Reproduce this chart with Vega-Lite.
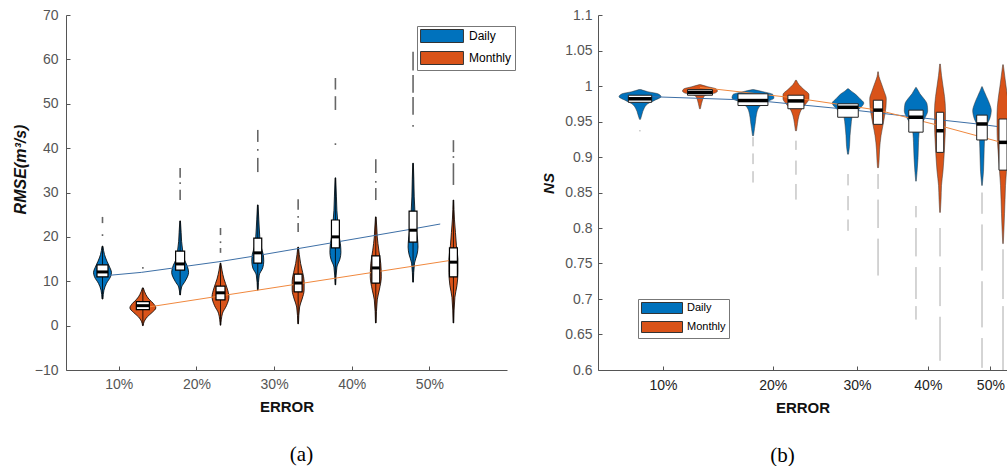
{
"$schema": "https://vega.github.io/schema/vega-lite/v6.json",
"padding": {"left": 12, "top": 8, "right": 0, "bottom": 0},
"background": "white",
"datasets": {
"va": [
{"id":"D10","type":"Daily","v":6.0,"lo":7.84,"hi":7.96},
{"id":"D10","type":"Daily","v":8.0,"lo":7.71,"hi":8.09},
{"id":"D10","type":"Daily","v":9.5,"lo":7.39,"hi":8.41},
{"id":"D10","type":"Daily","v":11,"lo":6.87,"hi":8.93},
{"id":"D10","type":"Daily","v":12,"lo":6.74,"hi":9.06},
{"id":"D10","type":"Daily","v":13,"lo":6.93,"hi":8.87},
{"id":"D10","type":"Daily","v":14.5,"lo":7.32,"hi":8.48},
{"id":"D10","type":"Daily","v":16,"lo":7.64,"hi":8.16},
{"id":"D10","type":"Daily","v":17.9,"lo":7.84,"hi":7.96},
{"id":"M10","type":"Monthly","v":0,"lo":13.06,"hi":13.14},
{"id":"M10","type":"Monthly","v":1,"lo":12.91,"hi":13.29},
{"id":"M10","type":"Monthly","v":2,"lo":12.52,"hi":13.68},
{"id":"M10","type":"Monthly","v":3,"lo":11.88,"hi":14.32},
{"id":"M10","type":"Monthly","v":4,"lo":11.43,"hi":14.77},
{"id":"M10","type":"Monthly","v":5,"lo":11.75,"hi":14.45},
{"id":"M10","type":"Monthly","v":6,"lo":12.33,"hi":13.87},
{"id":"M10","type":"Monthly","v":7,"lo":12.71,"hi":13.49},
{"id":"M10","type":"Monthly","v":8.5,"lo":13.04,"hi":13.16},
{"id":"D20","type":"Daily","v":6.9,"lo":17.86,"hi":17.94},
{"id":"D20","type":"Daily","v":8.7,"lo":17.71,"hi":18.09},
{"id":"D20","type":"Daily","v":10,"lo":17.26,"hi":18.54},
{"id":"D20","type":"Daily","v":12,"lo":16.81,"hi":18.99},
{"id":"D20","type":"Daily","v":13.5,"lo":17.00,"hi":18.80},
{"id":"D20","type":"Daily","v":15,"lo":17.39,"hi":18.41},
{"id":"D20","type":"Daily","v":17,"lo":17.58,"hi":18.22},
{"id":"D20","type":"Daily","v":19,"lo":17.71,"hi":18.09},
{"id":"D20","type":"Daily","v":21,"lo":17.77,"hi":18.03},
{"id":"D20","type":"Daily","v":23.6,"lo":17.86,"hi":17.94},
{"id":"M20","type":"Monthly","v":0.1,"lo":23.06,"hi":23.14},
{"id":"M20","type":"Monthly","v":2.8,"lo":22.84,"hi":23.36},
{"id":"M20","type":"Monthly","v":4.5,"lo":22.33,"hi":23.87},
{"id":"M20","type":"Monthly","v":6.5,"lo":22.01,"hi":24.19},
{"id":"M20","type":"Monthly","v":8.5,"lo":22.26,"hi":23.94},
{"id":"M20","type":"Monthly","v":10.5,"lo":22.65,"hi":23.55},
{"id":"M20","type":"Monthly","v":12.5,"lo":22.91,"hi":23.29},
{"id":"M20","type":"Monthly","v":14.1,"lo":23.06,"hi":23.14},
{"id":"D30","type":"Daily","v":8.0,"lo":27.86,"hi":27.94},
{"id":"D30","type":"Daily","v":11.4,"lo":27.71,"hi":28.09},
{"id":"D30","type":"Daily","v":13,"lo":27.26,"hi":28.54},
{"id":"D30","type":"Daily","v":14.5,"lo":27.13,"hi":28.67},
{"id":"D30","type":"Daily","v":16,"lo":27.19,"hi":28.61},
{"id":"D30","type":"Daily","v":18,"lo":27.51,"hi":28.29},
{"id":"D30","type":"Daily","v":20,"lo":27.64,"hi":28.16},
{"id":"D30","type":"Daily","v":22,"lo":27.71,"hi":28.09},
{"id":"D30","type":"Daily","v":24,"lo":27.77,"hi":28.03},
{"id":"D30","type":"Daily","v":27.2,"lo":27.86,"hi":27.94},
{"id":"M30","type":"Monthly","v":0.4,"lo":33.06,"hi":33.14},
{"id":"M30","type":"Monthly","v":4.2,"lo":32.91,"hi":33.29},
{"id":"M30","type":"Monthly","v":6,"lo":32.59,"hi":33.61},
{"id":"M30","type":"Monthly","v":8,"lo":32.33,"hi":33.87},
{"id":"M30","type":"Monthly","v":10,"lo":32.33,"hi":33.87},
{"id":"M30","type":"Monthly","v":12,"lo":32.52,"hi":33.68},
{"id":"M30","type":"Monthly","v":14,"lo":32.78,"hi":33.42},
{"id":"M30","type":"Monthly","v":16,"lo":32.95,"hi":33.25},
{"id":"M30","type":"Monthly","v":17.7,"lo":33.06,"hi":33.14},
{"id":"D40","type":"Daily","v":9.2,"lo":37.86,"hi":37.94},
{"id":"D40","type":"Daily","v":13.2,"lo":37.71,"hi":38.09},
{"id":"D40","type":"Daily","v":15,"lo":37.32,"hi":38.48},
{"id":"D40","type":"Daily","v":16.5,"lo":37.19,"hi":38.61},
{"id":"D40","type":"Daily","v":18.5,"lo":37.26,"hi":38.54},
{"id":"D40","type":"Daily","v":20.5,"lo":37.45,"hi":38.35},
{"id":"D40","type":"Daily","v":23,"lo":37.58,"hi":38.22},
{"id":"D40","type":"Daily","v":26,"lo":37.71,"hi":38.09},
{"id":"D40","type":"Daily","v":29,"lo":37.77,"hi":38.03},
{"id":"D40","type":"Daily","v":33.3,"lo":37.86,"hi":37.94},
{"id":"M40","type":"Monthly","v":0.6,"lo":43.06,"hi":43.14},
{"id":"M40","type":"Monthly","v":5.8,"lo":42.91,"hi":43.29},
{"id":"M40","type":"Monthly","v":8,"lo":42.65,"hi":43.55},
{"id":"M40","type":"Monthly","v":11,"lo":42.39,"hi":43.81},
{"id":"M40","type":"Monthly","v":14,"lo":42.46,"hi":43.74},
{"id":"M40","type":"Monthly","v":17,"lo":42.71,"hi":43.49},
{"id":"M40","type":"Monthly","v":20,"lo":42.91,"hi":43.29},
{"id":"M40","type":"Monthly","v":22,"lo":42.97,"hi":43.23},
{"id":"M40","type":"Monthly","v":24.5,"lo":43.06,"hi":43.14},
{"id":"D50","type":"Daily","v":9.8,"lo":47.86,"hi":47.94},
{"id":"D50","type":"Daily","v":14.1,"lo":47.71,"hi":48.09},
{"id":"D50","type":"Daily","v":16,"lo":47.39,"hi":48.41},
{"id":"D50","type":"Daily","v":17.7,"lo":47.26,"hi":48.54},
{"id":"D50","type":"Daily","v":19.5,"lo":47.32,"hi":48.48},
{"id":"D50","type":"Daily","v":22,"lo":47.51,"hi":48.29},
{"id":"D50","type":"Daily","v":25,"lo":47.64,"hi":48.16},
{"id":"D50","type":"Daily","v":29,"lo":47.75,"hi":48.05},
{"id":"D50","type":"Daily","v":33,"lo":47.80,"hi":48.00},
{"id":"D50","type":"Daily","v":36.6,"lo":47.86,"hi":47.94},
{"id":"M50","type":"Monthly","v":0.6,"lo":53.06,"hi":53.14},
{"id":"M50","type":"Monthly","v":6.4,"lo":52.91,"hi":53.29},
{"id":"M50","type":"Monthly","v":9,"lo":52.65,"hi":53.55},
{"id":"M50","type":"Monthly","v":12,"lo":52.52,"hi":53.68},
{"id":"M50","type":"Monthly","v":15,"lo":52.52,"hi":53.68},
{"id":"M50","type":"Monthly","v":18,"lo":52.71,"hi":53.49},
{"id":"M50","type":"Monthly","v":21,"lo":52.84,"hi":53.36},
{"id":"M50","type":"Monthly","v":24,"lo":52.97,"hi":53.23},
{"id":"M50","type":"Monthly","v":28.3,"lo":53.06,"hi":53.14}
],
"boxa": [
{"id":"D10","x":7.9,"q1":11.0,"med":12.1,"q3":13.7,"b1":7.19,"b2":8.61,"vmin":6.0,"vmax":17.9},
{"id":"M10","x":13.1,"q1":3.6,"med":4.5,"q3":5.4,"b1":12.26,"b2":13.94,"vmin":0.0,"vmax":8.5},
{"id":"D20","x":17.9,"q1":12.5,"med":13.9,"q3":16.8,"b1":17.32,"b2":18.48,"vmin":6.9,"vmax":23.6},
{"id":"M20","x":23.1,"q1":5.8,"med":7.4,"q3":8.9,"b1":22.52,"b2":23.68,"vmin":0.1,"vmax":14.1},
{"id":"D30","x":27.9,"q1":14.1,"med":16.4,"q3":19.7,"b1":27.39,"b2":28.41,"vmin":8.0,"vmax":27.2},
{"id":"M30","x":33.1,"q1":7.6,"med":9.6,"q3":11.6,"b1":32.59,"b2":33.61,"vmin":0.4,"vmax":17.7},
{"id":"D40","x":37.9,"q1":17.5,"med":20.0,"q3":23.8,"b1":37.39,"b2":38.41,"vmin":9.2,"vmax":33.3},
{"id":"M40","x":43.1,"q1":9.6,"med":13.0,"q3":15.7,"b1":42.59,"b2":43.61,"vmin":0.6,"vmax":24.5},
{"id":"D50","x":47.9,"q1":18.8,"med":21.5,"q3":25.8,"b1":47.39,"b2":48.41,"vmin":9.8,"vmax":36.6},
{"id":"M50","x":53.1,"q1":11.0,"med":14.3,"q3":17.5,"b1":52.59,"b2":53.61,"vmin":0.6,"vmax":28.3}
],
"outa": [
{"x":7.9,"y1":24.5,"y2":23.1},{"x":7.9,"y1":20.6,"y2":20.2},
{"x":13.1,"y1":13.2,"y2":12.8},
{"x":17.9,"y1":35.5,"y2":33.3},{"x":17.9,"y1":32.3,"y2":31.9},{"x":17.9,"y1":30.6,"y2":28.3},
{"x":23.1,"y1":22.0,"y2":20.4},{"x":23.1,"y1":19.0,"y2":18.6},{"x":23.1,"y1":17.5,"y2":16.4},
{"x":27.9,"y1":44.1,"y2":41.4},{"x":27.9,"y1":39.8,"y2":39.4},{"x":27.9,"y1":37.8,"y2":34.6},
{"x":33.1,"y1":28.5,"y2":26.1},{"x":33.1,"y1":24.7,"y2":24.3},{"x":33.1,"y1":23.1,"y2":21.1},
{"x":37.9,"y1":55.8,"y2":53.2},{"x":37.9,"y1":51.7,"y2":48.6},{"x":37.9,"y1":41.1,"y2":40.7},
{"x":43.1,"y1":37.5,"y2":34.4},{"x":43.1,"y1":32.6,"y2":32.2},{"x":43.1,"y1":31.0,"y2":28.3},
{"x":47.9,"y1":61.7,"y2":57.5},{"x":47.9,"y1":56.5,"y2":52.5},{"x":47.9,"y1":51.5,"y2":47.5},{"x":47.9,"y1":45.2,"y2":44.8},
{"x":53.1,"y1":41.8,"y2":39.1},{"x":53.1,"y1":38.2,"y2":37.8},{"x":53.1,"y1":36.6,"y2":31.7}
],
"trenda": [
{"type":"Daily","x":7.9,"y":11.2},{"type":"Daily","x":12.9,"y":12.0},{"type":"Daily","x":17.9,"y":13.2},
{"type":"Daily","x":22.9,"y":14.4},{"type":"Daily","x":27.9,"y":15.8},{"type":"Daily","x":37.9,"y":18.8},
{"type":"Daily","x":47.9,"y":21.8},{"type":"Daily","x":51.4,"y":22.9},
{"type":"Monthly","x":13.1,"y":4.0},{"type":"Monthly","x":53.1,"y":14.8}
],
"vb": [
{"id":"D10","type":"Daily","v":0.953,"lo":8.30,"hi":8.37},
{"id":"D10","type":"Daily","v":0.960,"lo":8.19,"hi":8.47},
{"id":"D10","type":"Daily","v":0.968,"lo":8.05,"hi":8.61},
{"id":"D10","type":"Daily","v":0.975,"lo":7.78,"hi":8.88},
{"id":"D10","type":"Daily","v":0.980,"lo":7.33,"hi":9.40},
{"id":"D10","type":"Daily","v":0.985,"lo":6.95,"hi":9.85},
{"id":"D10","type":"Daily","v":0.989,"lo":7.14,"hi":9.62},
{"id":"D10","type":"Daily","v":0.992,"lo":7.78,"hi":8.88},
{"id":"D10","type":"Daily","v":0.995,"lo":8.26,"hi":8.40},
{"id":"M10","type":"Monthly","v":0.968,"lo":12.94,"hi":13.02},
{"id":"M10","type":"Monthly","v":0.975,"lo":12.85,"hi":13.11},
{"id":"M10","type":"Monthly","v":0.980,"lo":12.77,"hi":13.20},
{"id":"M10","type":"Monthly","v":0.985,"lo":12.64,"hi":13.32},
{"id":"M10","type":"Monthly","v":0.988,"lo":12.29,"hi":13.67},
{"id":"M10","type":"Monthly","v":0.990,"lo":11.72,"hi":14.30},
{"id":"M10","type":"Monthly","v":0.993,"lo":11.52,"hi":14.53},
{"id":"M10","type":"Monthly","v":0.996,"lo":11.64,"hi":14.40},
{"id":"M10","type":"Monthly","v":0.999,"lo":12.29,"hi":13.67},
{"id":"M10","type":"Monthly","v":1.002,"lo":12.94,"hi":13.02},
{"id":"D20","type":"Daily","v":0.930,"lo":17.90,"hi":18.00},
{"id":"D20","type":"Daily","v":0.940,"lo":17.80,"hi":18.10},
{"id":"D20","type":"Daily","v":0.950,"lo":17.70,"hi":18.20},
{"id":"D20","type":"Daily","v":0.960,"lo":17.60,"hi":18.30},
{"id":"D20","type":"Daily","v":0.970,"lo":17.34,"hi":18.56},
{"id":"D20","type":"Daily","v":0.977,"lo":16.75,"hi":19.18},
{"id":"D20","type":"Daily","v":0.983,"lo":15.88,"hi":20.13},
{"id":"D20","type":"Daily","v":0.988,"lo":15.98,"hi":20.02},
{"id":"D20","type":"Daily","v":0.992,"lo":16.95,"hi":18.97},
{"id":"D20","type":"Daily","v":0.995,"lo":17.90,"hi":18.00},
{"id":"M20","type":"Monthly","v":0.937,"lo":22.50,"hi":22.62},
{"id":"M20","type":"Monthly","v":0.947,"lo":22.39,"hi":22.73},
{"id":"M20","type":"Monthly","v":0.958,"lo":22.22,"hi":22.90},
{"id":"M20","type":"Monthly","v":0.968,"lo":21.88,"hi":23.24},
{"id":"M20","type":"Monthly","v":0.975,"lo":21.44,"hi":23.71},
{"id":"M20","type":"Monthly","v":0.982,"lo":21.11,"hi":24.06},
{"id":"M20","type":"Monthly","v":0.988,"lo":21.11,"hi":24.06},
{"id":"M20","type":"Monthly","v":0.995,"lo":21.65,"hi":23.47},
{"id":"M20","type":"Monthly","v":1.002,"lo":22.22,"hi":22.90},
{"id":"M20","type":"Monthly","v":1.008,"lo":22.50,"hi":22.62},
{"id":"D30","type":"Daily","v":0.904,"lo":28.79,"hi":28.91},
{"id":"D30","type":"Daily","v":0.915,"lo":28.66,"hi":29.04},
{"id":"D30","type":"Daily","v":0.930,"lo":28.59,"hi":29.11},
{"id":"D30","type":"Daily","v":0.945,"lo":28.47,"hi":29.24},
{"id":"D30","type":"Daily","v":0.956,"lo":28.34,"hi":29.36},
{"id":"D30","type":"Daily","v":0.963,"lo":27.83,"hi":29.88},
{"id":"D30","type":"Daily","v":0.970,"lo":27.20,"hi":30.54},
{"id":"D30","type":"Daily","v":0.976,"lo":26.86,"hi":30.91},
{"id":"D30","type":"Daily","v":0.982,"lo":27.33,"hi":30.41},
{"id":"D30","type":"Daily","v":0.989,"lo":27.95,"hi":29.75},
{"id":"D30","type":"Daily","v":0.993,"lo":28.47,"hi":29.24},
{"id":"D30","type":"Daily","v":0.996,"lo":28.79,"hi":28.91},
{"id":"M30","type":"Monthly","v":0.885,"lo":32.76,"hi":32.90},
{"id":"M30","type":"Monthly","v":0.895,"lo":32.69,"hi":32.97},
{"id":"M30","type":"Monthly","v":0.910,"lo":32.62,"hi":33.04},
{"id":"M30","type":"Monthly","v":0.930,"lo":32.42,"hi":33.24},
{"id":"M30","type":"Monthly","v":0.945,"lo":32.15,"hi":33.51},
{"id":"M30","type":"Monthly","v":0.957,"lo":31.94,"hi":33.72},
{"id":"M30","type":"Monthly","v":0.970,"lo":31.74,"hi":33.92},
{"id":"M30","type":"Monthly","v":0.982,"lo":31.70,"hi":33.97},
{"id":"M30","type":"Monthly","v":0.993,"lo":32.01,"hi":33.65},
{"id":"M30","type":"Monthly","v":1.005,"lo":32.42,"hi":33.24},
{"id":"M30","type":"Monthly","v":1.013,"lo":32.69,"hi":32.97},
{"id":"M30","type":"Monthly","v":1.020,"lo":32.79,"hi":32.87},
{"id":"D40","type":"Daily","v":0.866,"lo":38.19,"hi":38.27},
{"id":"D40","type":"Daily","v":0.878,"lo":38.08,"hi":38.38},
{"id":"D40","type":"Daily","v":0.899,"lo":37.94,"hi":38.53},
{"id":"D40","type":"Daily","v":0.920,"lo":37.86,"hi":38.60},
{"id":"D40","type":"Daily","v":0.932,"lo":37.79,"hi":38.67},
{"id":"D40","type":"Daily","v":0.945,"lo":37.49,"hi":38.97},
{"id":"D40","type":"Daily","v":0.955,"lo":36.90,"hi":39.56},
{"id":"D40","type":"Daily","v":0.965,"lo":36.52,"hi":39.98},
{"id":"D40","type":"Daily","v":0.975,"lo":36.62,"hi":39.87},
{"id":"D40","type":"Daily","v":0.982,"lo":37.05,"hi":39.41},
{"id":"D40","type":"Daily","v":0.989,"lo":37.64,"hi":38.82},
{"id":"D40","type":"Daily","v":0.994,"lo":37.94,"hi":38.53},
{"id":"D40","type":"Daily","v":0.998,"lo":38.19,"hi":38.27},
{"id":"M40","type":"Monthly","v":0.822,"lo":41.81,"hi":41.91},
{"id":"M40","type":"Monthly","v":0.840,"lo":41.71,"hi":42.02},
{"id":"M40","type":"Monthly","v":0.860,"lo":41.63,"hi":42.09},
{"id":"M40","type":"Monthly","v":0.880,"lo":41.40,"hi":42.32},
{"id":"M40","type":"Monthly","v":0.900,"lo":41.24,"hi":42.48},
{"id":"M40","type":"Monthly","v":0.925,"lo":41.09,"hi":42.63},
{"id":"M40","type":"Monthly","v":0.945,"lo":41.01,"hi":42.71},
{"id":"M40","type":"Monthly","v":0.965,"lo":41.01,"hi":42.71},
{"id":"M40","type":"Monthly","v":0.985,"lo":41.17,"hi":42.56},
{"id":"M40","type":"Monthly","v":1.000,"lo":41.40,"hi":42.32},
{"id":"M40","type":"Monthly","v":1.015,"lo":41.63,"hi":42.09},
{"id":"M40","type":"Monthly","v":1.031,"lo":41.81,"hi":41.91},
{"id":"D50","type":"Daily","v":0.860,"lo":48.55,"hi":48.65},
{"id":"D50","type":"Daily","v":0.880,"lo":48.35,"hi":48.85},
{"id":"D50","type":"Daily","v":0.900,"lo":48.27,"hi":48.93},
{"id":"D50","type":"Daily","v":0.925,"lo":48.18,"hi":49.02},
{"id":"D50","type":"Daily","v":0.935,"lo":48.10,"hi":49.10},
{"id":"D50","type":"Daily","v":0.945,"lo":47.77,"hi":49.43},
{"id":"D50","type":"Daily","v":0.955,"lo":47.28,"hi":49.94},
{"id":"D50","type":"Daily","v":0.965,"lo":47.06,"hi":50.16},
{"id":"D50","type":"Daily","v":0.975,"lo":47.36,"hi":49.86},
{"id":"D50","type":"Daily","v":0.985,"lo":47.85,"hi":49.35},
{"id":"D50","type":"Daily","v":0.993,"lo":48.27,"hi":48.93},
{"id":"D50","type":"Daily","v":0.999,"lo":48.55,"hi":48.65},
{"id":"M50","type":"Monthly","v":0.778,"lo":52.11,"hi":52.21},
{"id":"M50","type":"Monthly","v":0.800,"lo":51.99,"hi":52.33},
{"id":"M50","type":"Monthly","v":0.820,"lo":51.90,"hi":52.42},
{"id":"M50","type":"Monthly","v":0.840,"lo":51.82,"hi":52.51},
{"id":"M50","type":"Monthly","v":0.860,"lo":51.73,"hi":52.59},
{"id":"M50","type":"Monthly","v":0.880,"lo":51.56,"hi":52.76},
{"id":"M50","type":"Monthly","v":0.900,"lo":51.38,"hi":52.94},
{"id":"M50","type":"Monthly","v":0.920,"lo":51.21,"hi":53.11},
{"id":"M50","type":"Monthly","v":0.940,"lo":51.13,"hi":53.20},
{"id":"M50","type":"Monthly","v":0.960,"lo":51.13,"hi":53.20},
{"id":"M50","type":"Monthly","v":0.980,"lo":51.30,"hi":53.02},
{"id":"M50","type":"Monthly","v":1.000,"lo":51.64,"hi":52.68},
{"id":"M50","type":"Monthly","v":1.030,"lo":52.11,"hi":52.21}
],
"boxb": [
{"id":"D10","x":8.33,"q1":0.977,"med":0.982,"q3":0.987,"b1":7.55,"b2":9.16},
{"id":"M10","x":12.98,"q1":0.987,"med":0.991,"q3":0.995,"b1":11.93,"b2":14.08},
{"id":"D20","x":17.95,"q1":0.9725,"med":0.9795,"q3":0.989,"b1":16.46,"b2":19.49},
{"id":"M20","x":22.56,"q1":0.968,"med":0.979,"q3":0.987,"b1":21.65,"b2":23.47},
{"id":"D30","x":28.85,"q1":0.956,"med":0.970,"q3":0.975,"b1":27.54,"b2":30.18},
{"id":"M30","x":32.83,"q1":0.946,"med":0.966,"q3":0.980,"b1":32.19,"b2":33.47},
{"id":"D40","x":38.23,"q1":0.935,"med":0.956,"q3":0.966,"b1":37.17,"b2":39.29},
{"id":"M40","x":41.86,"q1":0.9065,"med":0.937,"q3":0.963,"b1":41.29,"b2":42.43},
{"id":"D50","x":48.60,"q1":0.924,"med":0.9465,"q3":0.959,"b1":47.72,"b2":49.48},
{"id":"M50","x":52.16,"q1":0.8815,"med":0.9206,"q3":0.9535,"b1":51.47,"b2":52.85}
],
"outb": [
{"x":8.33,"y1":0.938,"y2":0.936},{"x":8.33,"y1":0.669,"y2":0.649},
{"x":17.95,"y1":0.928,"y2":0.915},{"x":17.95,"y1":0.905,"y2":0.890},{"x":17.95,"y1":0.880,"y2":0.864},
{"x":22.56,"y1":0.923,"y2":0.910},{"x":22.56,"y1":0.895,"y2":0.875},{"x":22.56,"y1":0.862,"y2":0.840},
{"x":28.85,"y1":0.876,"y2":0.860},{"x":28.85,"y1":0.845,"y2":0.825},{"x":28.85,"y1":0.812,"y2":0.796},
{"x":32.83,"y1":0.876,"y2":0.855},{"x":32.83,"y1":0.840,"y2":0.800},{"x":32.83,"y1":0.785,"y2":0.733},
{"x":38.23,"y1":0.831,"y2":0.815},{"x":38.23,"y1":0.800,"y2":0.760},{"x":38.23,"y1":0.745,"y2":0.700},{"x":38.23,"y1":0.690,"y2":0.671},
{"x":41.86,"y1":0.800,"y2":0.760},{"x":41.86,"y1":0.745,"y2":0.690},{"x":41.86,"y1":0.675,"y2":0.613},
{"x":48.60,"y1":0.850,"y2":0.820},{"x":48.60,"y1":0.805,"y2":0.740},{"x":48.60,"y1":0.725,"y2":0.660},{"x":48.60,"y1":0.645,"y2":0.603},
{"x":52.16,"y1":0.770,"y2":0.700},{"x":52.16,"y1":0.690,"y2":0.600}
],
"trendb": [
{"type":"Daily","x":8.33,"y":0.9855},{"type":"Daily","x":17.95,"y":0.980},{"type":"Daily","x":28.85,"y":0.967},
{"type":"Daily","x":38.23,"y":0.956},{"type":"Daily","x":48.60,"y":0.9458},{"type":"Daily","x":51.13,"y":0.943},
{"type":"Monthly","x":12.98,"y":0.998},{"type":"Monthly","x":22.56,"y":0.983},{"type":"Monthly","x":32.83,"y":0.966},
{"type":"Monthly","x":41.86,"y":0.944},{"type":"Monthly","x":52.16,"y":0.920}
]
},
"hconcat": [
{
"width": 441, "height": 355,
"title": {"text": "(a)", "orient": "bottom", "font": "Liberation Serif", "fontSize": 21, "fontWeight": "normal", "color": "black", "offset": 30, "dx": 15},
"layer": [
{"data": {"name": "va"},
 "mark": {"type": "area", "orient": "horizontal", "interpolate": "monotone", "stroke": "black", "strokeWidth": 0.8, "opacity": 1, "clip": true},
 "encoding": {
  "y": {"field": "v", "type": "quantitative", "scale": {"domain": [-10, 70], "nice": false, "zero": false},
        "axis": {"title": "RMSE(m³/s)", "values": [-10,0,10,20,30,40,50,60,70], "labelOverlap": false, "labelPadding": 12, "titleFontStyle": "italic", "titleFontWeight": "bold", "titleFontSize": 16, "titleColor": "#111", "titlePadding": 6, "titleY": 154}},
  "x": {"field": "lo", "type": "quantitative", "stack": null, "scale": {"domain": [3.2, 60], "nice": false, "zero": false},
        "axis": {"title": "ERROR", "values": [10,20,30,40,50], "labelExpr": "datum.value + '%'", "labelPadding": 11, "titleFontWeight": "bold", "titleFontSize": 15, "titleColor": "#111", "titlePadding": 8}},
  "x2": {"field": "hi"},
  "detail": {"field": "id"},
  "color": {"field": "type", "type": "nominal", "scale": {"domain": ["Daily", "Monthly"], "range": ["#0072BD", "#D95319"]},
    "legend": {"title": null, "orient": "none", "legendX": 351, "legendY": 11, "symbolType": "M-3.3,-1H3.3V1H-3.3Z", "symbolSize": 169, "symbolOffset": 15, "symbolStrokeColor": "#333", "symbolStrokeWidth": 1, "symbolOpacity": 1, "labelFont": "Liberation Sans", "labelFontSize": 12, "labelColor": "black", "labelOffset": 20, "strokeColor": "#777", "fillColor": "white", "padding": 3, "rowPadding": 4}}
 }},
{"data": {"name": "boxa"}, "mark": {"type": "rule", "color": "black", "strokeWidth": 0.8},
 "encoding": {"x": {"field": "x", "type": "quantitative"}, "y": {"field": "vmin", "type": "quantitative"}, "y2": {"field": "vmax"}}},
{"data": {"name": "trenda"}, "transform": [{"filter": "datum.type == 'Daily'"}], "mark": {"type": "line", "color": "#3d6fa6", "strokeWidth": 1},
 "encoding": {"x": {"field": "x", "type": "quantitative"}, "y": {"field": "y", "type": "quantitative"}}},
{"data": {"name": "trenda"}, "transform": [{"filter": "datum.type == 'Monthly'"}], "mark": {"type": "line", "color": "#f0883e", "strokeWidth": 1},
 "encoding": {"x": {"field": "x", "type": "quantitative"}, "y": {"field": "y", "type": "quantitative"}}},
{"data": {"name": "boxa"}, "mark": {"type": "rect", "fill": "white", "stroke": "black", "strokeWidth": 1.2},
 "encoding": {"x": {"field": "b1", "type": "quantitative"}, "x2": {"field": "b2"}, "y": {"field": "q1", "type": "quantitative"}, "y2": {"field": "q3"}}},
{"data": {"name": "boxa"}, "mark": {"type": "rule", "color": "black", "strokeWidth": 3},
 "encoding": {"x": {"field": "b1", "type": "quantitative"}, "x2": {"field": "b2"}, "y": {"field": "med", "type": "quantitative"}}},
{"data": {"name": "outa"}, "mark": {"type": "rule", "color": "#666", "strokeWidth": 1.6},
 "encoding": {"x": {"field": "x", "type": "quantitative"}, "y": {"field": "y1", "type": "quantitative"}, "y2": {"field": "y2"}}}
]
},
{
"width": 409, "height": 355,
"title": {"text": "(b)", "orient": "bottom", "font": "Liberation Serif", "fontSize": 21, "fontWeight": "normal", "color": "black", "offset": 30, "dx": -20},
"layer": [
{"data": {"name": "vb"},
 "mark": {"type": "area", "orient": "horizontal", "interpolate": "monotone", "stroke": "#333", "strokeWidth": 0.5, "opacity": 1, "clip": true},
 "encoding": {
  "y": {"field": "v", "type": "quantitative", "scale": {"domain": [0.6, 1.1], "nice": false, "zero": false},
        "axis": {"title": "NS", "tickCount": 11, "labelExpr": "format(datum.value, '~g')", "labelOverlap": false, "labelPadding": 10, "titleFontStyle": "italic", "titleFontWeight": "bold", "titleFontSize": 15, "titleColor": "#111", "titlePadding": 8, "titleY": 168}},
  "x": {"field": "lo", "type": "quantitative", "stack": null, "scale": {"type": "pow", "exponent": 0.5, "domain": [5.69, 52.85], "nice": false, "zero": false},
        "axis": {"title": "ERROR", "values": [10,20,30,40,50], "labelExpr": "datum.value + '%'", "labelPadding": 12, "titleFontWeight": "bold", "titleFontSize": 15, "titleColor": "#111", "titlePadding": 8, "labelColor": "#222"}},
  "x2": {"field": "hi"},
  "detail": {"field": "id"},
  "color": {"field": "type", "type": "nominal", "scale": {"domain": ["Daily", "Monthly"], "range": ["#0072BD", "#D95319"]},
    "legend": {"title": null, "orient": "none", "legendX": 40, "legendY": 284, "symbolType": "M-3.73,-1H3.73V1H-3.73Z", "symbolSize": 121, "symbolOffset": 15, "symbolStrokeColor": "#333", "symbolStrokeWidth": 1, "symbolOpacity": 1, "labelFont": "Liberation Sans", "labelFontSize": 11, "labelColor": "black", "labelOffset": 19, "strokeColor": "#777", "fillColor": "white", "padding": 3, "rowPadding": 3}}
 }},
{"data": {"name": "trendb"}, "transform": [{"filter": "datum.type == 'Daily'"}], "mark": {"type": "line", "color": "#3d6fa6", "strokeWidth": 1, "clip": true},
 "encoding": {"x": {"field": "x", "type": "quantitative"}, "y": {"field": "y", "type": "quantitative"}}},
{"data": {"name": "trendb"}, "transform": [{"filter": "datum.type == 'Monthly'"}], "mark": {"type": "line", "color": "#f0883e", "strokeWidth": 1, "clip": true},
 "encoding": {"x": {"field": "x", "type": "quantitative"}, "y": {"field": "y", "type": "quantitative"}}},
{"data": {"name": "boxb"}, "mark": {"type": "rect", "fill": "white", "stroke": "#222", "strokeWidth": 1, "clip": true},
 "encoding": {"x": {"field": "b1", "type": "quantitative"}, "x2": {"field": "b2"}, "y": {"field": "q1", "type": "quantitative"}, "y2": {"field": "q3"}}},
{"data": {"name": "boxb"}, "mark": {"type": "rule", "color": "black", "strokeWidth": 3.5, "clip": true},
 "encoding": {"x": {"field": "b1", "type": "quantitative"}, "x2": {"field": "b2"}, "y": {"field": "med", "type": "quantitative"}}},
{"data": {"name": "outb"}, "mark": {"type": "rule", "color": "#aaa", "strokeWidth": 1, "clip": true},
 "encoding": {"x": {"field": "x", "type": "quantitative"}, "y": {"field": "y1", "type": "quantitative"}, "y2": {"field": "y2"}}}
]
}
],
"spacing": 25,
"resolve": {"scale": {"color": "independent"}, "legend": {"color": "independent"}},
"config": {
 "view": {"stroke": null},
 "font": "Liberation Sans",
 "axis": {"grid": false, "domainColor": "#555", "tickColor": "#555", "tickSize": -4, "labelColor": "#555", "labelFont": "Liberation Sans", "labelFontSize": 14, "titleFont": "Liberation Sans", "labelOverlap": false}
}
}
